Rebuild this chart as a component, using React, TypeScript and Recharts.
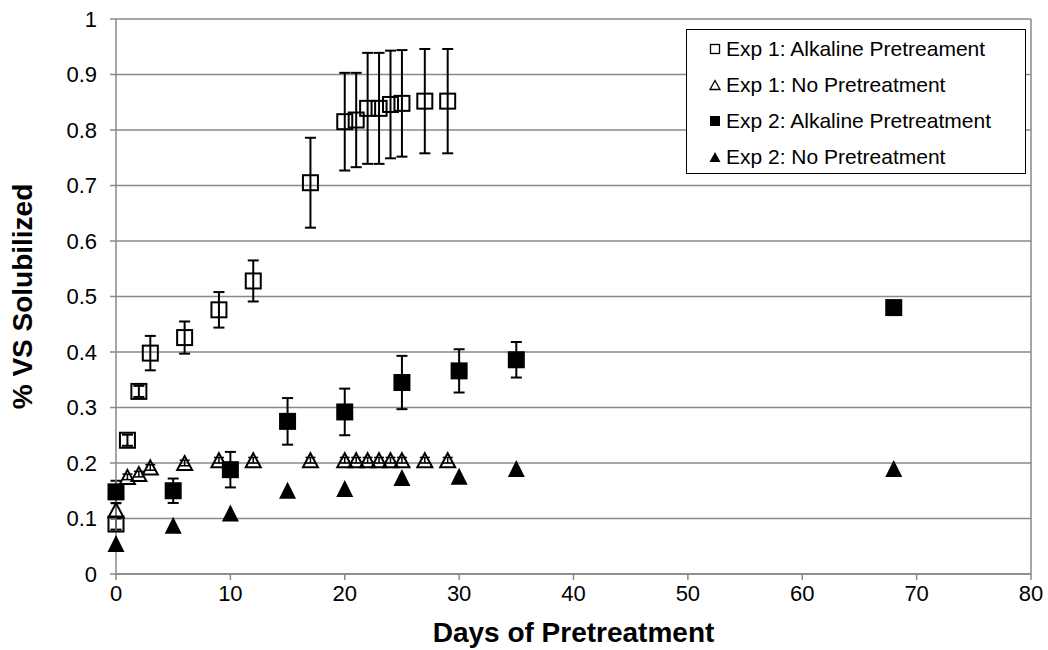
import {
  CartesianGrid,
  ErrorBar,
  ReferenceLine,
  Scatter,
  ScatterChart,
  XAxis,
  YAxis,
} from "recharts";

// Exp 1: alkaline pretreatment
const exp1AlkDays = [0, 1, 2, 3, 6, 9, 12, 17, 20, 21, 22, 23, 24, 25, 27, 29];
const exp1AlkValues = [0.09, 0.241, 0.329, 0.398, 0.426, 0.476, 0.528, 0.705, 0.815, 0.818, 0.839, 0.839, 0.846, 0.848, 0.852, 0.852];
const exp1AlkErrors = [0.01, 0.01, 0.01, 0.031, 0.029, 0.032, 0.037, 0.081, 0.088, 0.085, 0.1, 0.1, 0.097, 0.096, 0.094, 0.094];

// Exp 1: no pretreatment
const exp1NoDays = [0, 1, 2, 3, 6, 9, 12, 17, 20, 21, 22, 23, 24, 25, 27, 29];
const exp1NoValues = [0.115, 0.175, 0.18, 0.192, 0.2, 0.205, 0.205, 0.205, 0.205, 0.205, 0.205, 0.205, 0.205, 0.205, 0.205, 0.205];
const exp1NoErrors = [0.012, 0.005, 0.005, 0.005, 0.005, 0.005, 0.005, 0.005, 0.005, 0.005, 0.005, 0.005, 0.005, 0.005, 0.005, 0.005];

// Exp 2: alkaline pretreatment
const exp2AlkDays = [0, 5, 10, 15, 20, 25, 30, 35, 68];
const exp2AlkValues = [0.148, 0.15, 0.188, 0.275, 0.292, 0.345, 0.366, 0.386, 0.48];
const exp2AlkErrors = [0.02, 0.022, 0.032, 0.042, 0.042, 0.048, 0.039, 0.032, 0];

// Exp 2: no pretreatment
const exp2NoDays = [0, 5, 10, 15, 20, 25, 30, 35, 68];
const exp2NoValues = [0.055, 0.088, 0.11, 0.151, 0.154, 0.174, 0.176, 0.19, 0.19];

const xTicks = [0, 10, 20, 30, 40, 50, 60, 70, 80];
const yTicks = [0, 0.1, 0.2, 0.3, 0.4, 0.5, 0.6, 0.7, 0.8, 0.9, 1];
const yTickLabels = ["0", "0.1", "0.2", "0.3", "0.4", "0.5", "0.6", "0.7", "0.8", "0.9", "1"];

const legendLabels = [
  "Exp 1: Alkaline Pretreament",
  "Exp 1: No Pretreatment",
  "Exp 2: Alkaline Pretreatment",
  "Exp 2: No Pretreatment",
];

const toPoints = (days: number[], values: number[], errors?: number[]) =>
  days.map((x, i) => ({ x, y: values[i], err: errors ? errors[i] : 0 }));

const exp1Alk = toPoints(exp1AlkDays, exp1AlkValues, exp1AlkErrors);
const exp1No = toPoints(exp1NoDays, exp1NoValues, exp1NoErrors);
const exp2Alk = toPoints(exp2AlkDays, exp2AlkValues, exp2AlkErrors);
const exp2No = toPoints(exp2NoDays, exp2NoValues);

const FONT = "'Liberation Sans', Arial, sans-serif";
const GRID = "#898989";

const OpenSquare = (props: any) => {
  const { cx, cy } = props;
  return <rect x={cx - 7.5} y={cy - 7.5} width={15} height={15} fill="none" stroke="#000" strokeWidth={2} />;
};

const FilledSquare = (props: any) => {
  const { cx, cy } = props;
  return <rect x={cx - 8.5} y={cy - 8.5} width={17} height={17} fill="#000" />;
};

const OpenTriangle = (props: any) => {
  const { cx, cy } = props;
  return (
    <polygon
      points={`${cx},${cy - 7} ${cx + 7.5},${cy + 7} ${cx - 7.5},${cy + 7}`}
      fill="none"
      stroke="#000"
      strokeWidth={2}
    />
  );
};

const FilledTriangle = (props: any) => {
  const { cx, cy } = props;
  return <polygon points={`${cx},${cy - 8.5} ${cx + 8.5},${cy + 8.5} ${cx - 8.5},${cy + 8.5}`} fill="#000" />;
};

function LegendMarker({ index }: { index: number }) {
  return (
    <svg width={12} height={12} style={{ marginRight: 5 }}>
      {index === 0 && <rect x={1.5} y={1.5} width={9} height={9} fill="none" stroke="#000" strokeWidth={1.3} />}
      {index === 1 && <polygon points="6,1.5 11,10.5 1,10.5" fill="none" stroke="#000" strokeWidth={1.3} />}
      {index === 2 && <rect x={1} y={1} width={10} height={10} fill="#000" />}
      {index === 3 && <polygon points="6,1 11.5,11 0.5,11" fill="#000" />}
    </svg>
  );
}

export default function App() {
  return (
    <div style={{ position: "relative", width: 1048, height: 650, background: "#fff", fontFamily: FONT }}>
      <style>{"body{margin:0}"}</style>
      <ScatterChart width={1048} height={650} margin={{ top: 19, right: 17, bottom: 0, left: 0 }}>
        <CartesianGrid vertical={false} stroke={GRID} strokeWidth={1.5} />
        <XAxis
          type="number"
          dataKey="x"
          domain={[0, 80]}
          ticks={xTicks}
          height={76}
          stroke={GRID}
          strokeWidth={1.5}
          tickSize={6}
          tickMargin={5}
          tick={{ fill: "#000", fontSize: 22, fontFamily: FONT }}
          label={{
            value: "Days of Pretreatment",
            position: "center",
            dy: 20,
            style: { fontSize: 28, fontWeight: "bold", fill: "#000", fontFamily: FONT },
          }}
        />
        <YAxis
          type="number"
          dataKey="y"
          domain={[0, 1]}
          ticks={yTicks}
          width={116}
          stroke={GRID}
          strokeWidth={1.5}
          tickSize={6}
          tickMargin={13}
          tickFormatter={(v: number) => yTickLabels[yTicks.indexOf(v)] ?? String(v)}
          tick={{ fill: "#000", fontSize: 22, fontFamily: FONT }}
          label={{
            value: "% VS Solubilized",
            angle: -90,
            position: "center",
            dx: -36,
            style: { fontSize: 28, fontWeight: "bold", fill: "#000", fontFamily: FONT, textAnchor: "middle" },
          }}
        />
        <ReferenceLine x={80} stroke={GRID} strokeWidth={1.5} />
        <Scatter data={exp1Alk} shape={OpenSquare} isAnimationActive={false}>
          <ErrorBar dataKey="err" direction="y" width={5.5} stroke="#000" strokeWidth={2} />
        </Scatter>
        <Scatter data={exp1No} shape={OpenTriangle} isAnimationActive={false}>
          <ErrorBar dataKey="err" direction="y" width={5} stroke="#000" strokeWidth={1.5} />
        </Scatter>
        <Scatter data={exp2Alk} shape={FilledSquare} isAnimationActive={false}>
          <ErrorBar dataKey="err" direction="y" width={5.5} stroke="#000" strokeWidth={2} />
        </Scatter>
        <Scatter data={exp2No} shape={FilledTriangle} isAnimationActive={false} />
      </ScatterChart>
      <div
        style={{
          position: "absolute",
          left: 686,
          top: 29,
          width: 340,
          height: 145,
          border: "1px solid #000",
          background: "#fff",
          paddingTop: 1,
          boxSizing: "border-box",
        }}
      >
        {legendLabels.map((label, i) => (
          <div
            key={label}
            style={{
              height: 36,
              display: "flex",
              alignItems: "center",
              paddingLeft: 22,
              fontSize: 21,
              color: "#000",
              whiteSpace: "nowrap",
            }}
          >
            <LegendMarker index={i} />
            {label}
          </div>
        ))}
      </div>
    </div>
  );
}
